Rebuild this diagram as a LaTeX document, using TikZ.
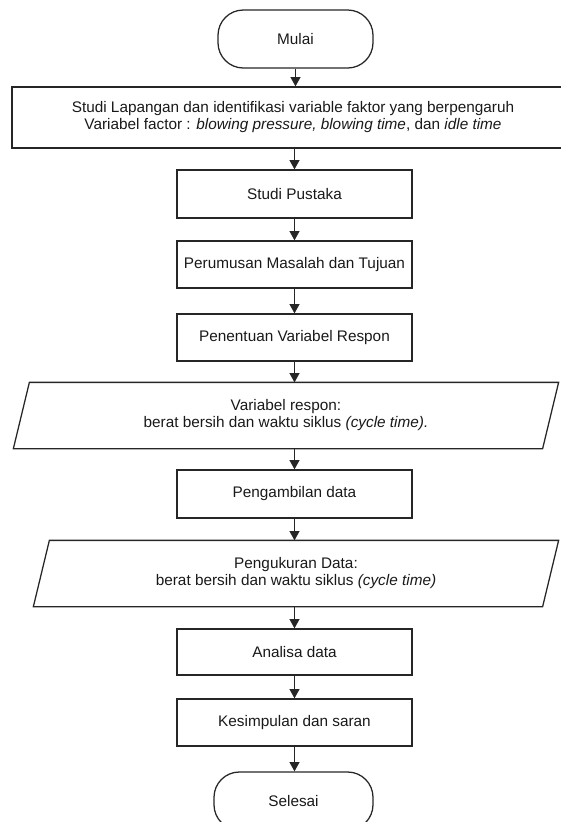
\documentclass[tikz,border=0pt]{standalone}
\usepackage{fontspec}
\setmainfont{Liberation Sans}
\usepackage{tikz}
\usetikzlibrary{positioning}
\usetikzlibrary{calc,arrows.meta}

\begin{document}
\begin{tikzpicture}[x=0.75pt,y=-0.75pt]
    % Define the parameters of the flow (in pixels)
    \pgfmathsetmacro{\midX}{294.5}
    \pgfmathsetmacro{\slant}{16}

    % Fix the size of the page
    \useasboundingbox (0,0) rectangle (561,822);

    % Define the styles of the blocks
    \tikzset{
        outline/.style={draw=black!85, line width=0.95pt},
        block/.style={outline, minimum width=176.25pt, minimum height=36pt, inner sep=0pt,
            align=center, text=black!90, font=\fontsize{11.5}{12.75}\selectfont},
        terminal/.style={block, rounded corners=19pt, minimum width=116.25pt, minimum height=43.5pt},
        io/.style={block, draw=none, minimum height=48.75pt},
        flow arrow/.style={outline, -{Triangle[length=7pt, width=7.5pt]}}
    }

    % Draw the blocks
    \node[terminal] (mulai) at (295.5,39) {Mulai};
    \node[block, minimum width=421.5pt, minimum height=45.75pt] (lapangan) at (293,117.5)
        {Studi Lapangan dan identifikasi variable faktor yang berpengaruh\\
         Variabel factor : \textit{blowing pressure, blowing time}, dan \textit{idle time}};
    \node[block] (pustaka) at (\midX,194) {Studi Pustaka};
    \node[block, minimum height=35.25pt] (rumusan) at (\midX,264.5) {Perumusan Masalah dan Tujuan};
    \node[block, minimum height=35.25pt] (penentuan) at (\midX,337.5) {Penentuan Variabel Respon};
    \node[io, minimum width=408pt] (respon) at (286,415.5)
        {Variabel respon:\\ berat bersih dan waktu siklus \textit{(cycle time).}};
    \node[block] (ambil) at (\midX,494) {Pengambilan data};
    \node[io, minimum width=393pt] (ukur) at (296,573.5)
        {Pengukuran Data:\\ berat bersih dan waktu siklus \textit{(cycle time)}};
    \node[block, minimum height=34.5pt] (analisa) at (\midX,652) {Analisa data};
    \node[block, minimum height=35.25pt] (simpulan) at (\midX,722.5) {Kesimpulan dan saran};
    \node[terminal, minimum width=119.25pt] (selesai) at (293.5,801) {Selesai};

    % Draw the parallelograms round the data blocks
    \foreach \n in {respon, ukur}
        \draw[outline] ($(\n.north west)+(\slant,0)$) -- (\n.north east)
            -- ($(\n.south east)+(-\slant,0)$) -- (\n.south west) -- cycle;

    % Draw the arrows
    \draw[flow arrow] (mulai.south) -- (mulai.south |- lapangan.north);
    \draw[flow arrow] (lapangan.south -| pustaka.north) -- (pustaka.north);
    \draw[flow arrow] (pustaka) -- (rumusan);
    \draw[flow arrow] (rumusan) -- (penentuan);
    \draw[flow arrow] (penentuan.south) -- (penentuan.south |- respon.north);
    \draw[flow arrow] (respon.south -| ambil.north) -- (ambil.north);
    \draw[flow arrow] (ambil.south) -- (ambil.south |- ukur.north);
    \draw[flow arrow] (ukur.south -| analisa.north) -- (analisa.north);
    \draw[flow arrow] (analisa) -- (simpulan);
    \draw[flow arrow] (simpulan.south) -- (simpulan.south |- selesai.north);
\end{tikzpicture}
\end{document}
